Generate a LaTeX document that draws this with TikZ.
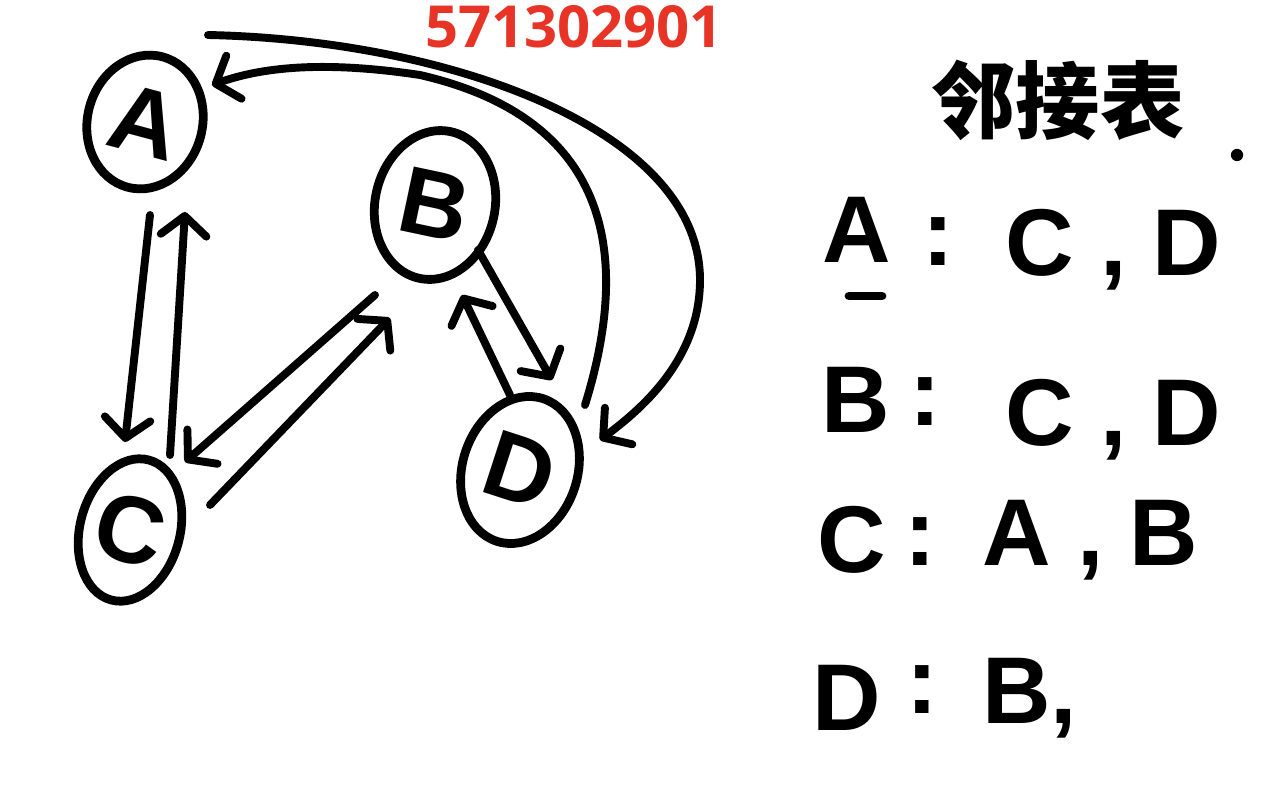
\documentclass[tikz,border=0pt]{standalone}
\usepackage{fontspec}
\setmainfont{Liberation Sans}
\newfontfamily\cjk{Noto Sans CJK SC}
\newfontfamily\numfont{Open Sans}
\usetikzlibrary{shapes.geometric,arrows.meta,calc}
\definecolor{qqred}{RGB}{232,52,38}
\tikzset{
  vertex/.style={draw, ellipse, line width=5pt, inner sep=0pt, font=\bfseries\fontsize{54}{58}\selectfont},
  link/.style={line width=4.5pt, line cap=round, -{Straight Barb[round,length=11pt,width=26pt]}},
  entry/.style={inner sep=0pt, font=\bfseries\fontsize{54}{58}\selectfont},
}

\begin{document}
\begin{tikzpicture}[x=0.02cm,y=-0.02cm]
  \useasboundingbox (0,0) rectangle (1286,804);
  % vertices
  \node[vertex, minimum width=2.3cm, minimum height=2.7cm, rotate=-15] (A) at (145,122) {A};
  \node[vertex, minimum width=2.4cm, minimum height=3.0cm, rotate=-12] (B) at (435,205) {B};
  \node[vertex, minimum width=2.0cm, minimum height=2.9cm, rotate=-15] (C) at (130,530) {C};
  \node[vertex, minimum width=2.3cm, minimum height=3.0cm, rotate=-18] (D) at (520,470) {D};
  \node[text=qqred, font=\numfont\bfseries\fontsize{33}{35}\selectfont] (num) at (574,27) {571302901};
  % edges
  \draw[link] ($(A)+(5,93)$) -- ($(C)+(-5,-88)$);
  \draw[link] ($(C)+(40,-75)$) -- ($(A)+(40,90)$);
  \draw[link] ($(B)+(-60,90)$) -- ($(C)+(55,-68)$);
  \draw[link] ($(C)+(80,-25)$) -- ($(B)+(-45,113)$);
  \draw[link] ($(B)+(43,45)$) -- ($(D)+(32,-90)$);
  \draw[link] ($(D)+(-10,-75)$) -- ($(B)+(27,90)$);
  \draw[link] ($(D)+(65,-65)$) .. controls (630,260) and (615,120) .. (420,75)
    .. controls (320,60) and (260,68) .. ($(A)+(67,-37)$);
  \draw[link] ($(A)+(63,-87)$) .. controls (450,40) and (700,130) .. (700,280)
    .. controls (700,360) and (640,410) .. ($(D)+(80,-30)$);
  % adjacency list
  \node[font=\cjk\bfseries\fontsize{48}{52}\selectfont] (title) at (1058,100) {邻接表};
  \node[circle, fill, inner sep=0pt, minimum size=7pt] (titledot) at (1237,155) {};
  \node[entry] (lblA) at (857,230) {A};
  \node[entry] (colA) at (938,242) {:};
  \node[entry, anchor=west] (lstA) at (1005,250) {C , D};
  \draw[line width=5pt, line cap=round] ($(lblA)+(-8,66)$) -- ($(lblA)+(25,66)$);
  \node[entry] (lblB) at (856,400) {B};
  \node[entry] (colB) at (925,402) {:};
  \node[entry, anchor=west] (lstB) at (1005,420) {C , D};
  \node[entry] (lblC) at (852,540) {C};
  \node[entry] (colC) at (920,542) {:};
  \node[entry, anchor=west] (lstC) at (982,540) {A , B};
  \node[entry] (lblD) at (847,698) {D};
  \node[entry] (colD) at (922,690) {:};
  \node[entry, anchor=west] (lstD) at (982,698) {B,};
\end{tikzpicture}
\end{document}
